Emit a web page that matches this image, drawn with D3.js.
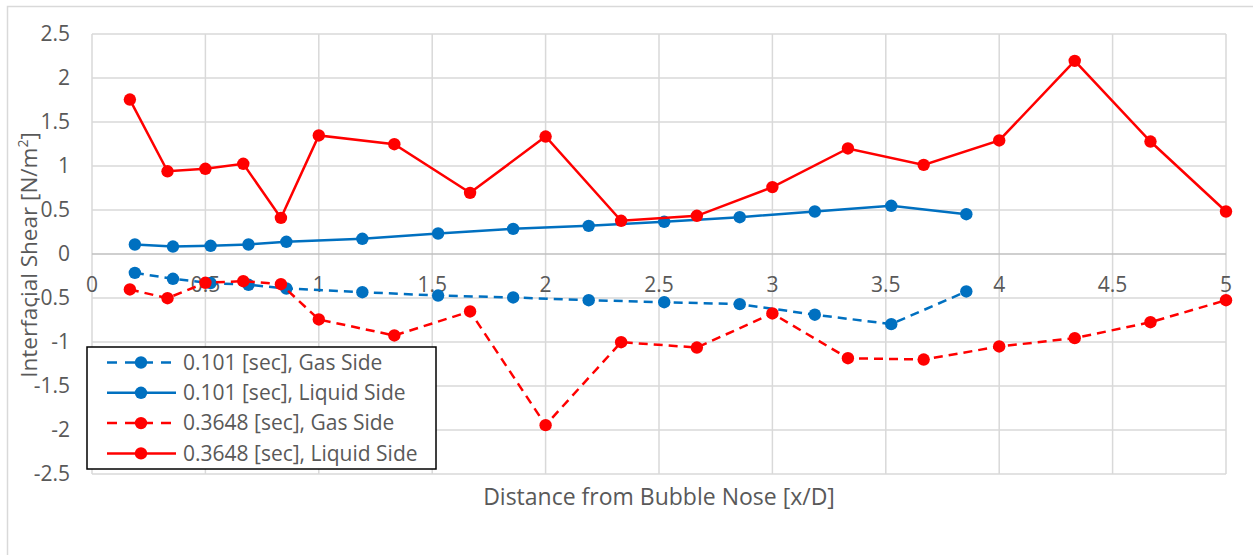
<!DOCTYPE html>
<html>
<head>
<meta charset="utf-8">
<script src="https://cdn.jsdelivr.net/npm/d3@7"></script>
<style>
  html, body { margin: 0; padding: 0; background: #fff; }
  svg { display: block; font-family: "Open Sans", sans-serif; }
</style>
</head>
<body>
<svg id="chart" width="1253" height="555"></svg>
<script>
// x positions [x/D]
const xLiquid0101 = [0.189, 0.357, 0.523, 0.69, 0.857, 1.192, 1.526, 1.857, 2.19, 2.523, 2.856, 3.187, 3.524, 3.855]
const yGas0101 = [-0.214, -0.282, -0.33, -0.35, -0.392, -0.434, -0.472, -0.494, -0.525, -0.548, -0.57, -0.69, -0.797, -0.426]
const yLiquid0101 = [0.108, 0.085, 0.093, 0.108, 0.139, 0.173, 0.233, 0.286, 0.32, 0.366, 0.418, 0.483, 0.548, 0.452]

const x3648 = [0.167, 0.333, 0.5, 0.667, 0.833, 1, 1.333, 1.667, 2, 2.333, 2.667, 3, 3.333, 3.667, 4, 4.333, 4.667, 5]
const yGas3648 = [-0.403, -0.502, -0.327, -0.309, -0.343, -0.744, -0.926, -0.653, -1.945, -1.002, -1.063, -0.676, -1.184, -1.199, -1.051, -0.956, -0.775, -0.525]
const yLiquid3648 = [1.755, 0.94, 0.968, 1.025, 0.41, 1.347, 1.248, 0.695, 1.335, 0.377, 0.434, 0.76, 1.199, 1.013, 1.29, 2.195, 1.278, 0.483]

const xTicks = [0, 0.5, 1, 1.5, 2, 2.5, 3, 3.5, 4, 4.5, 5]
const yTicks = [-2.5, -2, -1.5, -1, -0.5, 0, 0.5, 1, 1.5, 2, 2.5]

const seriesNames = ["0.101 [sec], Gas Side", "0.101 [sec], Liquid Side", "0.3648 [sec], Gas Side", "0.3648 [sec], Liquid Side"]

const BLUE = "#0070C0"
const RED = "#FF0000"
const GRID = "#D9D9D9"
const TEXT = "#595959"

const series = [
  { name: seriesNames[0], xs: xLiquid0101, ys: yGas0101, color: BLUE, dash: "9,6" },
  { name: seriesNames[1], xs: xLiquid0101, ys: yLiquid0101, color: BLUE, dash: null },
  { name: seriesNames[2], xs: x3648, ys: yGas3648, color: RED, dash: "9,6" },
  { name: seriesNames[3], xs: x3648, ys: yLiquid3648, color: RED, dash: null }
]

const svg = d3.select("#chart")

// chart frame (runs off the right / bottom of the picture)
svg.append("path")
  .attr("d", "M7.5,560 L7.5,6.5 L1260,6.5")
  .attr("fill", "none")
  .attr("stroke", GRID)
  .attr("stroke-width", 1.5)

const x = d3.scaleLinear().domain([0, 5]).range([92, 1226])
const y = d3.scaleLinear().domain([-2.5, 2.5]).range([474, 34])

// gridlines
const grid = svg.append("g")
grid.selectAll("line.h")
  .data(yTicks.filter(v => v !== 0))
  .enter().append("line")
  .attr("x1", x(0)).attr("x2", x(5))
  .attr("y1", d => y(d)).attr("y2", d => y(d))
  .attr("stroke", GRID).attr("stroke-width", 1.5)

grid.selectAll("line.v")
  .data(xTicks)
  .enter().append("line")
  .attr("x1", d => x(d)).attr("x2", d => x(d))
  .attr("y1", y(2.5)).attr("y2", y(-2.5))
  .attr("stroke", GRID).attr("stroke-width", 1.5)

// zero axis
svg.append("line")
  .attr("x1", x(0)).attr("x2", x(5))
  .attr("y1", y(0)).attr("y2", y(0))
  .attr("stroke", "#BFBFBF").attr("stroke-width", 1.5)

// y tick labels
svg.append("g").selectAll("text")
  .data(yTicks)
  .enter().append("text")
  .attr("x", 70)
  .attr("y", d => y(d))
  .attr("dy", "0.35em")
  .attr("text-anchor", "end")
  .attr("fill", TEXT)
  .style("font-size", "21px")
  .text(d => String(d))

// x tick labels sit under the zero line
svg.append("g").selectAll("text")
  .data(xTicks)
  .enter().append("text")
  .attr("x", d => x(d))
  .attr("y", y(0) + 38)
  .attr("text-anchor", "middle")
  .attr("fill", TEXT)
  .style("font-size", "21px")
  .text(d => String(d))

// axis titles
svg.append("text")
  .attr("x", 659)
  .attr("y", 505)
  .attr("text-anchor", "middle")
  .attr("fill", TEXT)
  .style("font-size", "23px")
  .text("Distance from Bubble Nose [x/D]")

const yTitle = svg.append("text")
  .attr("transform", "translate(37,255) rotate(-90)")
  .attr("text-anchor", "middle")
  .attr("fill", TEXT)
  .style("font-size", "22.5px")
yTitle.append("tspan").text("Interfacial Shear [N/m")
yTitle.append("tspan").attr("dy", -9).style("font-size", "14px").text("2")
yTitle.append("tspan").attr("dy", 9).text("]")

// series
const line = d3.line().x(d => x(d[0])).y(d => y(d[1]))

series.forEach(s => {
  const pts = s.xs.map((v, i) => [v, s.ys[i]])
  const g = svg.append("g")
  g.append("path")
    .datum(pts)
    .attr("d", line)
    .attr("fill", "none")
    .attr("stroke", s.color)
    .attr("stroke-width", 2.5)
    .attr("stroke-dasharray", s.dash)
  g.selectAll("circle")
    .data(pts)
    .enter().append("circle")
    .attr("cx", d => x(d[0]))
    .attr("cy", d => y(d[1]))
    .attr("r", 6.2)
    .attr("fill", s.color)
})

// legend
const legend = svg.append("g").attr("transform", "translate(87,347)")
legend.append("rect")
  .attr("width", 349).attr("height", 122)
  .attr("fill", "#fff")
  .attr("stroke", "#000").attr("stroke-width", 1.5)

const rows = legend.selectAll("g.row")
  .data(series)
  .enter().append("g")
  .attr("transform", (d, i) => `translate(0,${15.5 + i * 30.3})`)

rows.append("line")
  .attr("x1", 20).attr("x2", 89)
  .attr("stroke", d => d.color)
  .attr("stroke-width", 2.5)
  .attr("stroke-dasharray", d => d.dash ? "10,8" : null)
rows.append("circle")
  .attr("cx", 54).attr("r", 6.2)
  .attr("fill", d => d.color)
rows.append("text")
  .attr("x", 96)
  .attr("dy", "0.35em")
  .attr("fill", TEXT)
  .style("font-size", "21px")
  .text(d => d.name)
</script>
</body>
</html>
